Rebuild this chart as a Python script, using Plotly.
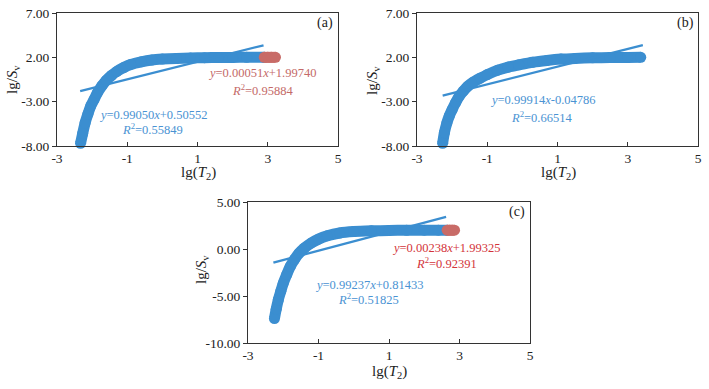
import plotly.graph_objects as go

# ---------------- data ----------------
a_blue_x = [-2.33, -2.27, -2.2, -2.12, -2.04, -1.95, -1.85, -1.72, -1.6, -1.45, -1.3, -1.1,
            -0.9, -0.6, -0.3, 0.0, 0.4, 0.8, 1.2, 1.6, 2.0, 2.4, 2.9]
a_blue_y = [-7.7, -6.6, -5.4, -4.4, -3.5, -2.8, -2.0, -1.2, -0.6, -0.05, 0.4, 0.85,
            1.2, 1.5, 1.7, 1.8, 1.88, 1.93, 1.96, 1.98, 1.99, 2.0, 2.0]
a_red_x = [2.9, 3.0, 3.1, 3.22]
a_red_y = [2.0, 2.0, 2.0, 2.0]
a_fit_x = [-2.34, 2.88]
a_fit_y = [-1.81, 3.36]

b_blue_x = [-2.27, -2.22, -2.15, -2.08, -2.0, -1.9, -1.8, -1.68, -1.55, -1.4, -1.2, -1.0,
            -0.7, -0.4, -0.1, 0.3, 0.7, 1.1, 1.5, 2.0, 2.5, 3.0, 3.37]
b_blue_y = [-7.7, -6.5, -5.4, -4.6, -3.9, -3.1, -2.4, -1.8, -1.25, -0.8, -0.35, 0.05,
            0.55, 0.9, 1.15, 1.45, 1.65, 1.8, 1.88, 1.94, 1.97, 1.99, 2.0]
b_fit_x = [-2.27, 3.43]
b_fit_y = [-2.32, 3.38]

c_blue_x = [-2.25, -2.2, -2.14, -2.07, -2.0, -1.9, -1.8, -1.68, -1.55, -1.4, -1.2, -1.0,
            -0.75, -0.4, 0.0, 0.5, 1.0, 1.5, 2.0, 2.4, 2.65]
c_blue_y = [-7.4, -6.4, -5.4, -4.5, -3.65, -2.7, -1.85, -1.1, -0.45, 0.1, 0.65, 1.05,
            1.4, 1.7, 1.85, 1.93, 1.97, 1.99, 2.0, 2.0, 2.0]
c_red_x = [2.65, 2.72, 2.79, 2.86]
c_red_y = [2.0, 2.0, 2.0, 2.0]
c_fit_x = [-2.28, 2.62]
c_fit_y = [-1.45, 3.41]

x_ticks = [-3, -1, 1, 3, 5]
x_tick_text = ["-3", "-1", "1", "3", "5"]
y_ticks_ab = [-8, -3, 2, 7]
y_tick_text_ab = ["-8.00", "-3.00", "2.00", "7.00"]
y_ticks_c = [-10, -5, 0, 5]
y_tick_text_c = ["-10.00", "-5.00", "0.00", "5.00"]

eq_a_blue = ["<i>y</i>=0.99050<i>x</i>+0.50552", "<i>R</i><sup>2</sup>=0.55849"]
eq_a_red = ["<i>y</i>=0.00051<i>x</i>+1.99740", "<i>R</i><sup>2</sup>=0.95884"]
eq_b_blue = ["<i>y</i>=0.99914<i>x</i>-0.04786", "<i>R</i><sup>2</sup>=0.66514"]
eq_c_blue = ["<i>y</i>=0.99237<i>x</i>+0.81433", "<i>R</i><sup>2</sup>=0.51825"]
eq_c_red = ["<i>y</i>=0.00238<i>x</i>+1.99325", "<i>R</i><sup>2</sup>=0.92391"]

# ---------------- style ----------------
BLUE = "#3b8ed0"
RED = "#c86b67"
BLUE_TXT = "#4a93d3"
RED_TXT_A = "#c46a68"
RED_TXT_C = "#d3343a"
FONT = "Liberation Serif"
MS = 11

fig = go.Figure()

def band(x, y, color, xa, ya):
    fig.add_trace(go.Scatter(x=x, y=y, mode="lines+markers", xaxis=xa, yaxis=ya,
                             line=dict(color=color, width=MS, shape="spline", smoothing=0.8),
                             marker=dict(color=color, size=MS, line=dict(width=0)),
                             showlegend=False, cliponaxis=False, hoverinfo="skip"))

def fitline(x, y, xa, ya):
    fig.add_trace(go.Scatter(x=x, y=y, mode="lines", xaxis=xa, yaxis=ya,
                             line=dict(color=BLUE, width=2.3), showlegend=False))

band(a_blue_x, a_blue_y, BLUE, "x", "y")
band(a_red_x, a_red_y, RED, "x", "y")
fitline(a_fit_x, a_fit_y, "x", "y")

band(b_blue_x, b_blue_y, BLUE, "x2", "y2")
fitline(b_fit_x, b_fit_y, "x2", "y2")

band(c_blue_x, c_blue_y, BLUE, "x3", "y3")
band(c_red_x, c_red_y, RED, "x3", "y3")
fitline(c_fit_x, c_fit_y, "x3", "y3")

W, H = 709, 389
def dx(p0, p1):
    return [p0 / W, p1 / W]
def dy(top, bot):
    return [1 - bot / H, 1 - top / H]

axis_common = dict(showline=True, mirror=True, linecolor="#333", linewidth=1,
                   showgrid=False, zeroline=False, ticklen=4, tickcolor="#333",
                   automargin=False,
                   tickfont=dict(family=FONT, size=13.5, color="#222"))

fig.update_layout(
    template="none",
    width=W, height=H, margin=dict(l=0, r=0, t=0, b=0),
    paper_bgcolor="white", plot_bgcolor="white",
    xaxis=dict(domain=dx(57, 338), range=[-3, 5], tickvals=x_ticks, ticktext=x_tick_text,
               ticks="inside", anchor="y", **axis_common),
    yaxis=dict(domain=dy(13, 146), range=[-8, 7], tickvals=y_ticks_ab, ticktext=y_tick_text_ab,
               ticks="outside", anchor="x", **axis_common),
    xaxis2=dict(domain=dx(417, 698), range=[-3, 5], tickvals=x_ticks, ticktext=x_tick_text,
                ticks="inside", anchor="y2", **axis_common),
    yaxis2=dict(domain=dy(13, 146), range=[-8, 7], tickvals=y_ticks_ab, ticktext=y_tick_text_ab,
                ticks="outside", anchor="x2", **axis_common),
    xaxis3=dict(domain=dx(248, 530), range=[-3, 5], tickvals=x_ticks, ticktext=x_tick_text,
                ticks="inside", anchor="y3", **axis_common),
    yaxis3=dict(domain=dy(202, 343), range=[-10, 5], tickvals=y_ticks_c, ticktext=y_tick_text_c,
                ticks="outside", anchor="x3", **axis_common),
)

ann = []
def txt(x, y, text, color, xr, yr, size=12.5):
    ann.append(dict(x=x, y=y, xref=xr, yref=yr, text=text, showarrow=False,
                    font=dict(family=FONT, size=size, color=color),
                    xanchor="center", yanchor="middle"))

# panel (a)
txt(2.84, 0.24, eq_a_red[0], RED_TXT_A, "x", "y")
txt(2.84, -1.68, eq_a_red[1], RED_TXT_A, "x", "y")
txt(-0.24, -4.5, eq_a_blue[0], BLUE_TXT, "x", "y")
txt(-0.29, -6.08, eq_a_blue[1], BLUE_TXT, "x", "y")
txt(4.63, 5.9, "(a)", "#222", "x", "y", 14)
# panel (b)
txt(0.58, -2.81, eq_b_blue[0], BLUE_TXT, "x2", "y2")
txt(0.55, -4.69, eq_b_blue[1], BLUE_TXT, "x2", "y2")
txt(4.63, 5.9, "(b)", "#222", "x2", "y2", 14)
# panel (c)
txt(2.64, 0.07, eq_c_red[0], RED_TXT_C, "x3", "y3")
txt(2.64, -1.46, eq_c_red[1], RED_TXT_C, "x3", "y3")
txt(0.46, -3.83, eq_c_blue[0], BLUE_TXT, "x3", "y3")
txt(0.41, -5.35, eq_c_blue[1], BLUE_TXT, "x3", "y3")
txt(4.62, 3.9, "(c)", "#222", "x3", "y3", 14)

# axis titles
xt = "lg(<i>T</i><sub>2</sub>)"
yt = "lg/<i>S</i><sub>v</sub>"
for (px, py) in [(198, 173), (558, 173), (389, 372)]:
    ann.append(dict(x=px / W, y=1 - py / H, xref="paper", yref="paper", text=xt, showarrow=False,
                    font=dict(family=FONT, size=15, color="#222"), xanchor="center", yanchor="middle"))
for (px, py) in [(13, 80), (373, 80), (202, 270)]:
    ann.append(dict(x=px / W, y=1 - py / H, xref="paper", yref="paper", text=yt, showarrow=False,
                    textangle=-90, font=dict(family=FONT, size=15, color="#222"),
                    xanchor="center", yanchor="middle"))

fig.update_layout(annotations=ann)
fig.write_html("out.html", config={"displayModeBar": False},
               post_script="document.body.style.margin='0';")
